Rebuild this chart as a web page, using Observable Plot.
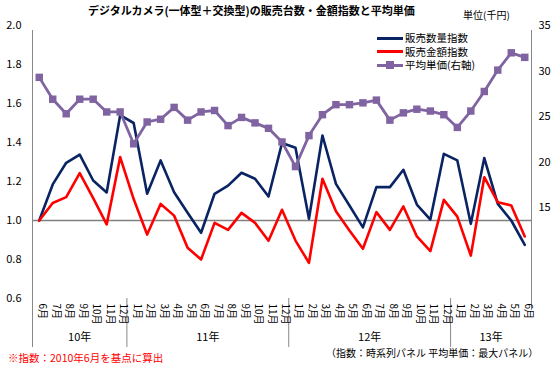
<!DOCTYPE html>
<html><head><meta charset="utf-8">
<script src="https://cdn.jsdelivr.net/npm/d3@7"></script>
<script src="https://cdn.jsdelivr.net/npm/@observablehq/plot@0.6"></script>
<style>
body{margin:0;background:#fff;font-family:"Noto Sans CJK JP",sans-serif;}
#wrap{position:relative;width:556px;height:367px;overflow:hidden;background:#fff;}
#chart{position:absolute;left:0;top:0;}
.abs{position:absolute;white-space:nowrap;line-height:1;color:#000;}
.sw{position:absolute;height:3px;width:26px;}
.mk{position:absolute;width:8px;height:8px;background:#8064a2;}
</style></head><body>
<div id="wrap">
<div id="chart"></div>
<div class="abs" style="left:88px;top:5px;font-size:11px;font-weight:bold;">デジタルカメラ(一体型＋交換型)の販売台数・金額指数と平均単価</div>
<div class="abs" style="left:463px;top:10px;font-size:10px;">単位(千円)</div>
<div class="sw" style="left:377px;top:36.5px;background:#0a2463;"></div>
<div class="abs" style="left:405px;top:33px;font-size:10.5px;">販売数量指数</div>
<div class="sw" style="left:377px;top:50px;background:#ff0000;"></div>
<div class="abs" style="left:405px;top:46.5px;font-size:10.5px;">販売金額指数</div>
<div class="sw" style="left:377px;top:63.5px;background:#8064a2;"></div>
<div class="mk" style="left:386px;top:61px;"></div>
<div class="abs" style="left:405px;top:60px;font-size:10.5px;">平均単価(右軸)</div>
<div class="abs" style="left:8px;top:352.5px;font-size:10.5px;color:#ff0000;">※指数：2010年6月を基点に算出</div>
<div class="abs" style="left:326px;top:348px;font-size:10px;">（指数：時系列パネル 平均単価：最大パネル）</div>
</div>
<script>
const months = ["6月","7月","8月","9月","10月","11月","12月",
  "1月","2月","3月","4月","5月","6月","7月","8月","9月","10月","11月","12月",
  "1月","2月","3月","4月","5月","6月","7月","8月","9月","10月","11月","12月",
  "1月","2月","3月","4月","5月","6月"];
const years = ["10年","11年","12年","13年"];
const quantityIndex = [1.00,1.185,1.296,1.338,1.205,1.144,1.54,
  1.50,1.137,1.308,1.145,1.04,0.937,1.137,1.179,1.245,1.214,1.123,1.397,
  1.373,1.009,1.436,1.188,1.077,0.965,1.171,1.171,1.26,1.082,1.005,1.342,
  1.308,0.983,1.32,1.085,1.0,0.875];
const amountIndex = [1.00,1.09,1.12,1.243,1.115,0.98,1.325,
  1.11,0.928,1.085,1.025,0.86,0.80,0.988,0.952,1.039,0.988,0.896,1.055,
  0.897,0.783,1.214,1.048,0.949,0.855,1.043,0.952,1.072,0.918,0.843,1.106,
  1.02,0.82,1.222,1.094,1.077,0.918];
const avgPrice = [29.3,26.9,25.3,26.9,26.9,25.5,25.5,
  22.0,24.4,24.7,26.0,24.6,25.5,25.66,24.0,24.9,24.3,23.7,22.2,
  19.5,22.9,25.2,26.3,26.3,26.5,26.8,24.6,25.4,25.8,25.6,25.2,
  23.8,25.6,27.75,30.1,32.0,31.5];
const leftTicks = [0.6,0.8,1.0,1.2,1.4,1.6,1.8,2.0];
const rightTicks = [15,20,25,30,35];
const leftDomain = [0.6, 2.0];
const rightDomain = [5, 35];

const toLeft = v => leftDomain[0] + (v - rightDomain[0]) * (leftDomain[1]-leftDomain[0]) / (rightDomain[1]-rightDomain[0]);
const fromLeft = v => rightDomain[0] + (v - leftDomain[0]) * (rightDomain[1]-rightDomain[0]) / (leftDomain[1]-leftDomain[0]);

const rows = months.map((m, i) => ({i, month: m, qty: quantityIndex[i], amt: amountIndex[i], price: toLeft(avgPrice[i])}));

const groups = [];
months.forEach((m, i) => {
  if (i === 0 || m === "1月") groups.push({start: i, end: i});
  else groups[groups.length-1].end = i;
});
const yearRows = groups.map((g, k) => ({label: years[k], center: (g.start + g.end) / 2}));
const separators = groups.slice(1).map(g => g.start - 0.5);
const xDomain = [-0.5, months.length - 0.5];

const chart = Plot.plot({
  width: 556, height: 367,
  marginTop: 25, marginBottom: 69, marginLeft: 32, marginRight: 25,
  style: {fontFamily: "'Noto Sans CJK JP', sans-serif", fontSize: "11px", color: "#000", background: "transparent"},
  x: {type: "linear", domain: xDomain, axis: null},
  y: {domain: leftDomain},
  marks: [
    Plot.ruleY([1.0], {stroke: "#808080", strokeWidth: 1.3}),
    Plot.ruleX([xDomain[0]], {y1: leftDomain[1], y2: leftDomain[0], insetTop: 5, insetBottom: -49, stroke: "#888"}),
    Plot.ruleX([xDomain[1]], {y1: leftDomain[1], y2: leftDomain[0], insetTop: 5, insetBottom: -12, stroke: "#888"}),
    Plot.ruleX(separators, {y1: leftDomain[0], y2: leftDomain[0], insetBottom: -49, stroke: "#888"}),
    Plot.axisY(leftTicks, {anchor: "left", tickSize: 0, tickPadding: 11, tickFormat: d3.format(".1f"), label: null, fontSize: 11}),
    Plot.axisY(rightTicks.map(toLeft), {anchor: "right", tickSize: 0, tickPadding: 7, tickFormat: d => String(Math.round(fromLeft(d))), label: null, fontSize: 11}),
    Plot.text(rows, {x: "i", text: "month", frameAnchor: "bottom", rotate: 90, textAnchor: "start", dy: 5, fontSize: 10, fill: "#000"}),
    Plot.text(yearRows, {x: "center", text: "label", frameAnchor: "bottom", dy: 42, fontSize: 11, fill: "#000"}),
    Plot.line(rows, {x: "i", y: "qty", stroke: "#0a2463", strokeWidth: 2.6}),
    Plot.line(rows, {x: "i", y: "amt", stroke: "#ff0000", strokeWidth: 2.6}),
    Plot.line(rows, {x: "i", y: "price", stroke: "#8064a2", strokeWidth: 2.8}),
    Plot.dot(rows, {x: "i", y: "price", symbol: "square", r: 4.2, fill: "#8064a2", stroke: "none"})
  ]
});
document.getElementById("chart").appendChild(chart);
</script>
</body></html>
